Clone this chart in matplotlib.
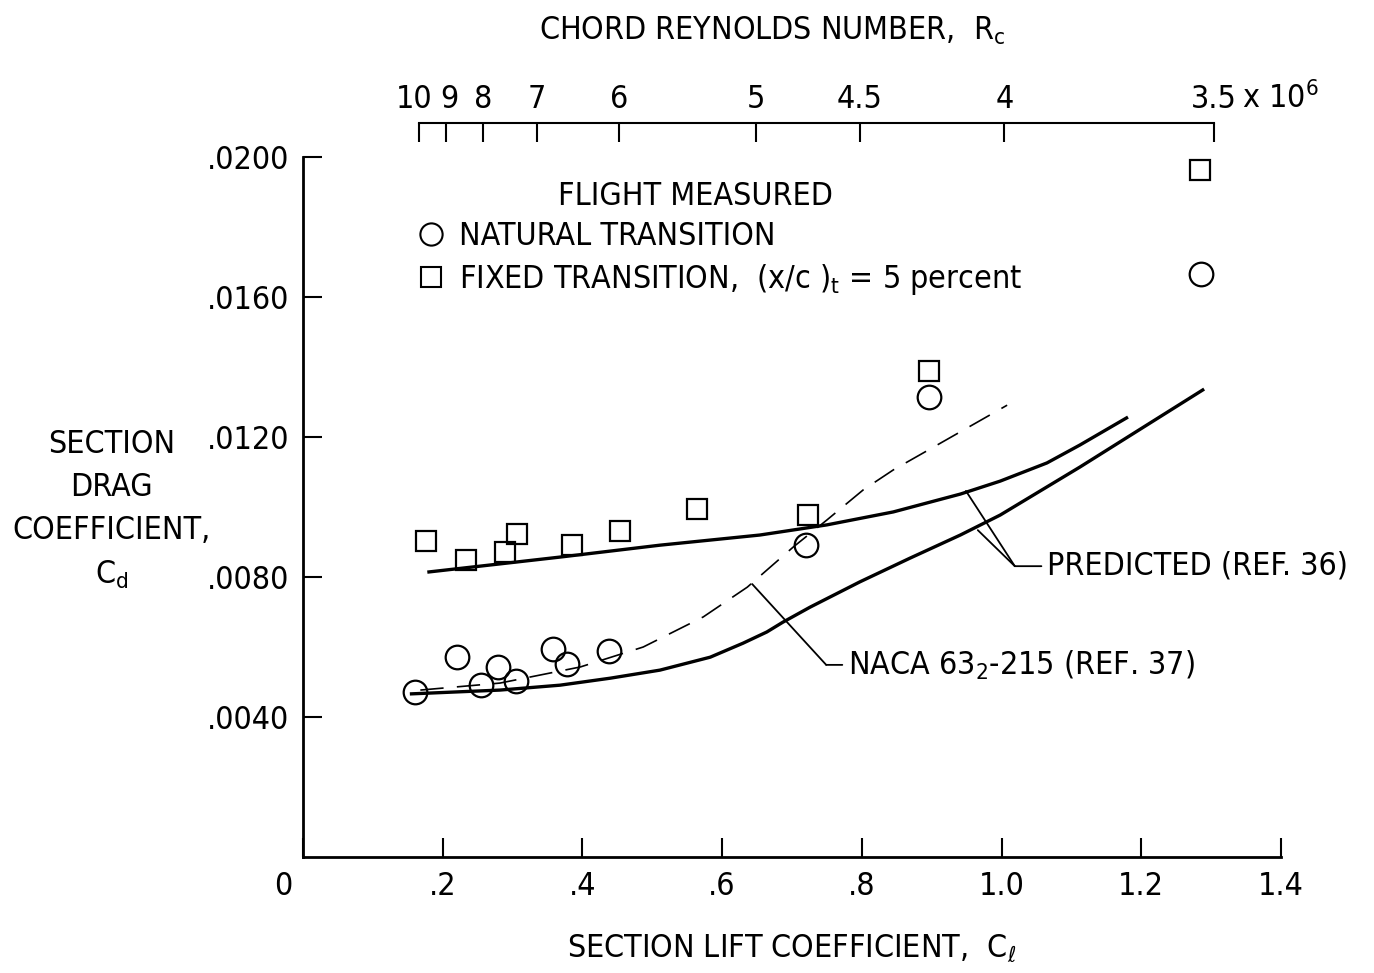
import numpy as np
import matplotlib
matplotlib.use("Agg")
import matplotlib.pyplot as plt
from matplotlib import font_manager as fm
from matplotlib.lines import Line2D
from matplotlib.transforms import ScaledTranslation

# Pick a condensed sans face if one is installed
condensed = [f for f in fm.fontManager.ttflist
             if f.stretch in ('condensed', 'semi-condensed', 'extra-condensed', 300)
             or 'Narrow' in f.name or 'Condensed' in f.fname]
plain = [f for f in condensed if f.style == 'normal' and f.weight in ('normal', 400, 'regular')]
chosen = plain[0] if plain else (condensed[0] if condensed else None)
if chosen is not None:
    BASE = chosen.name
    STRETCH = chosen.stretch
else:
    BASE = 'DejaVu Sans'
    STRETCH = 'normal'

plt.rcParams['font.family'] = [BASE, 'DejaVu Sans']
plt.rcParams['font.stretch'] = STRETCH
plt.rcParams['mathtext.fontset'] = 'custom'
plt.rcParams['mathtext.rm'] = f'{BASE}:stretch={STRETCH}'
plt.rcParams['mathtext.it'] = f'{BASE}:italic:stretch={STRETCH}'

# Flight-measured section drag
cl_natural = [0.160, 0.220, 0.255, 0.279, 0.305, 0.358, 0.378, 0.438, 0.720, 0.896, 1.286]
cd_natural = [0.00471, 0.00571, 0.00491, 0.00543, 0.00503, 0.00594, 0.00551, 0.00589,
              0.00891, 0.01314, 0.01666]
cl_fixed = [0.176, 0.233, 0.289, 0.306, 0.385, 0.454, 0.564, 0.723, 0.896, 1.284]
cd_fixed = [0.00903, 0.00849, 0.00871, 0.00923, 0.00891, 0.00931, 0.00994, 0.00977,
            0.01389, 0.01963]

# Predicted drag (ref. 36), fixed and natural transition
cl_pred_fixed = [0.178, 0.368, 0.511, 0.654, 0.750, 0.845, 0.941, 0.998, 1.065, 1.112, 1.181]
cd_pred_fixed = [0.00814, 0.00857, 0.00891, 0.00920, 0.00949, 0.00986, 0.01037, 0.01074,
                 0.01126, 0.01177, 0.01257]
cl_pred_natural = [0.153, 0.282, 0.368, 0.440, 0.511, 0.583, 0.630, 0.664, 0.687, 0.726,
                   0.797, 0.869, 0.941, 0.998, 1.112, 1.290]
cd_pred_natural = [0.00466, 0.00477, 0.00491, 0.00511, 0.00534, 0.00571, 0.00611, 0.00643,
                   0.00671, 0.00714, 0.00786, 0.00854, 0.00920, 0.00977, 0.01114, 0.01337]

# NACA 63_2-215 wind-tunnel data (ref. 37)
cl_naca = [0.168, 0.282, 0.397, 0.487, 0.573, 0.636, 0.702, 0.750, 0.802, 0.845, 0.898, 1.008]
cd_naca = [0.00477, 0.00497, 0.00543, 0.00600, 0.00686, 0.00771, 0.00886, 0.00963, 0.01049,
           0.01106, 0.01166, 0.01291]

# Chord Reynolds number scale (millions) vs lift coefficient: Cl = A * R^-N
re_ticks = [10, 9, 8, 7, 6, 5, 4.5, 4, 3.5]
re_labels = ['10', '9', '8', '7', '6', '5', '4.5', '4', '3.5']
RE_A, RE_N = 15.2, 1.96

x_ticks = [0, 0.2, 0.4, 0.6, 0.8, 1.0, 1.2, 1.4]
x_labels = ['0', '.2', '.4', '.6', '.8', '1.0', '1.2', '1.4']
y_ticks = [0.0040, 0.0080, 0.0120, 0.0160, 0.0200]
y_labels = ['.0040', '.0080', '.0120', '.0160', '.0200']

FS = 23

fig = plt.figure(figsize=(13.74, 9.73), dpi=100)
ax = fig.add_axes([0.2205, 0.1192, 0.9323 - 0.2205, 0.8386 - 0.1192])
ax.set_xlim(0, 1.4)
ax.set_ylim(0, 0.0200)

for s in ('top', 'right'):
    ax.spines[s].set_visible(False)
for s in ('left', 'bottom'):
    ax.spines[s].set_linewidth(2.0)

ax.set_xticks(x_ticks)
ax.set_xticklabels(x_labels)
ax.set_yticks(y_ticks)
ax.set_yticklabels(y_labels)
ax.tick_params(direction='in', length=14, width=1.5, labelsize=FS, pad=10)
lbl0 = ax.get_xticklabels()[0]
lbl0.set_transform(lbl0.get_transform() + ScaledTranslation(-0.2, 0, fig.dpi_scale_trans))

# Curves
ax.plot(cl_pred_fixed, cd_pred_fixed, color='black', lw=2.4, solid_capstyle='butt',
        solid_joinstyle='round')
ax.plot(cl_pred_natural, cd_pred_natural, color='black', lw=2.4, solid_capstyle='butt',
        solid_joinstyle='round')
ax.plot(cl_naca, cd_naca, color='black', lw=1.2, linestyle=(0, (14, 8)))

# Measured points
ax.plot(cl_natural, cd_natural, linestyle='none', marker='o', markersize=17,
        markerfacecolor='none', markeredgecolor='black', markeredgewidth=1.6)
ax.plot(cl_fixed, cd_fixed, linestyle='none', marker='s', markersize=15,
        markerfacecolor='none', markeredgecolor='black', markeredgewidth=1.6)

# Legend
ax.text(0.401, 0.943, 'FLIGHT MEASURED', transform=ax.transAxes, fontsize=FS,
        ha='center', va='center')
handles = [
    Line2D([], [], linestyle='none', marker='o', markersize=16, markerfacecolor='none',
           markeredgecolor='black', markeredgewidth=1.5),
    Line2D([], [], linestyle='none', marker='s', markersize=14, markerfacecolor='none',
           markeredgecolor='black', markeredgewidth=1.5),
]
leg = ax.legend(handles, ['NATURAL TRANSITION',
                          r'FIXED TRANSITION,  (x/c )$_\mathrm{t}$ = 5 percent'],
                frameon=False, loc='upper left', bbox_to_anchor=(0.102, 0.927),
                fontsize=FS, handletextpad=0.35, labelspacing=0.32, borderaxespad=0,
                handlelength=1.0)

# Leader lines and labels
ax.annotate('', xy=(0.949, 0.01046), xytext=(1.019, 0.00831),
            arrowprops=dict(arrowstyle='-', lw=1.3, color='black', shrinkA=0, shrinkB=0))
ax.annotate('', xy=(0.966, 0.00934), xytext=(1.019, 0.00831),
            arrowprops=dict(arrowstyle='-', lw=1.3, color='black', shrinkA=0, shrinkB=0))
ax.annotate('PREDICTED (REF. 36)', xy=(1.019, 0.00831), xytext=(1.065, 0.00831),
            fontsize=FS, ha='left', va='center',
            arrowprops=dict(arrowstyle='-', lw=1.3, color='black', shrinkA=2, shrinkB=0))
ax.annotate('', xy=(0.643, 0.00780), xytext=(0.749, 0.00549),
            arrowprops=dict(arrowstyle='-', lw=1.3, color='black', shrinkA=0, shrinkB=0))
ax.annotate(r'NACA 63$_\mathrm{2}$-215 (REF. 37)', xy=(0.749, 0.00549),
            xytext=(0.780, 0.00549), fontsize=FS, ha='left', va='center',
            arrowprops=dict(arrowstyle='-', lw=1.3, color='black', shrinkA=2, shrinkB=0))

# Axis titles
ax.set_xlabel(r'SECTION LIFT COEFFICIENT,  C$_\ell$', fontsize=FS, labelpad=22)
ax.text(-0.196, 0.612, 'SECTION\nDRAG\nCOEFFICIENT,\n' + r'C$_\mathrm{d}$',
        transform=ax.transAxes, fontsize=FS, ha='center', va='top', linespacing=1.5)


# Top Reynolds-number scale
def cl_to_re(cl):
    cl = np.clip(np.asarray(cl, dtype=float), 1e-3, None)
    return (RE_A / cl) ** (1.0 / RE_N)


def re_to_cl(re):
    re = np.clip(np.asarray(re, dtype=float), 1e-3, None)
    return RE_A * re ** (-RE_N)


TOP_Y = 1.0486
sec = ax.secondary_xaxis(TOP_Y, functions=(cl_to_re, re_to_cl))
sec.set_xticks(re_ticks)
sec.set_xticklabels(re_labels)
sec.tick_params(direction='in', length=14, width=1.5, labelsize=FS, pad=6)
sec.spines['top'].set_linewidth(1.5)
sec.spines['top'].set_bounds(3.5, 10)
# nudge the crowded labels at the high-Reynolds end apart
top_lbls = sec.get_xticklabels()
for lbl, dx in zip(top_lbls[:2], (-0.05, 0.04)):
    lbl.set_transform(lbl.get_transform() + ScaledTranslation(dx, 0, fig.dpi_scale_trans))
ax.annotate(r'x 10$^6$', xy=(float(re_to_cl(3.5)), TOP_Y), xycoords=('data', 'axes fraction'),
            xytext=(20, 6), textcoords='offset points', fontsize=FS, ha='left', va='bottom',
            annotation_clip=False)
ax.text(0.48, 1.181, r'CHORD REYNOLDS NUMBER,  R$_\mathrm{c}$', transform=ax.transAxes,
        fontsize=FS, ha='center', va='center')

fig.savefig('out.png', dpi=100)
